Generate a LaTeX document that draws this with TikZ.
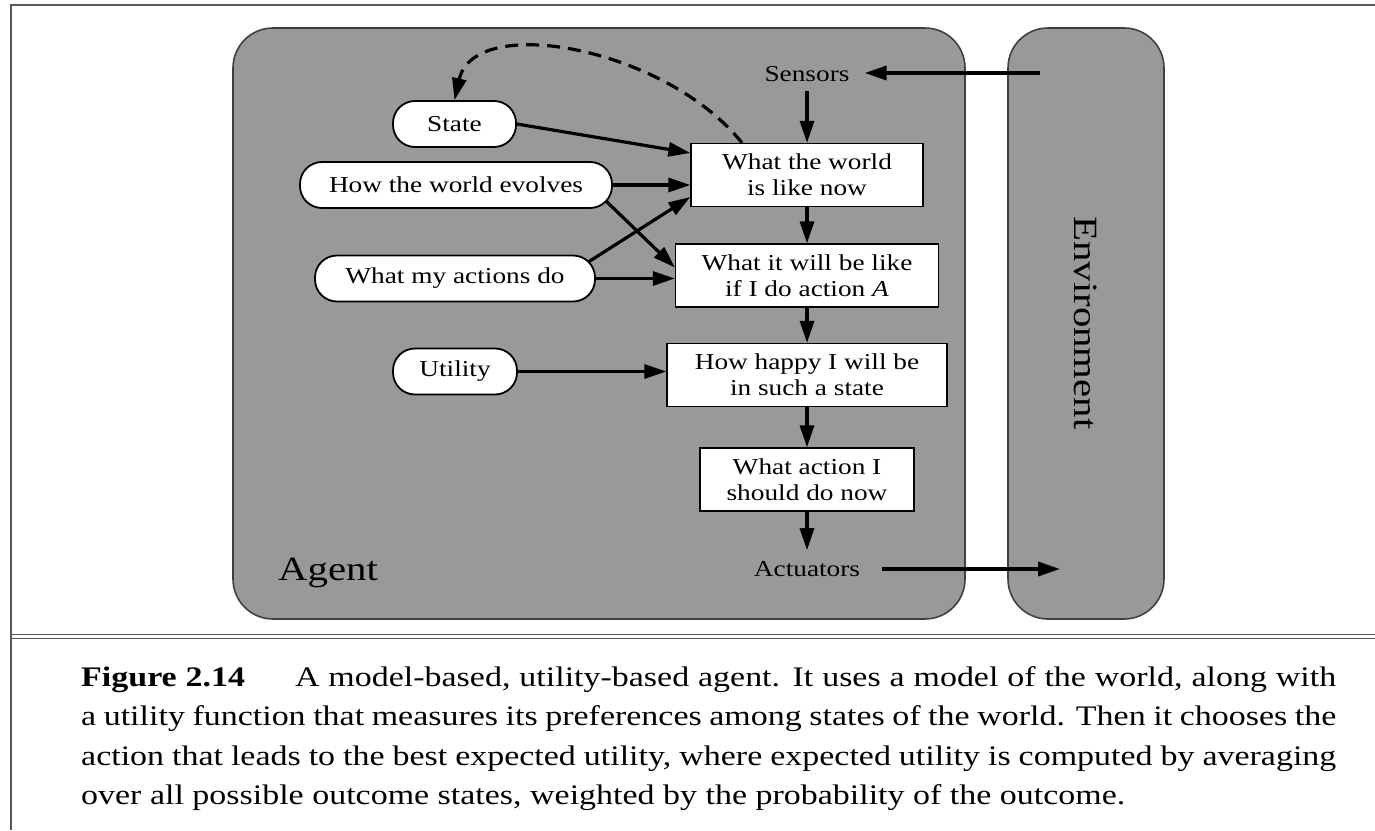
\documentclass[tikz,border=0pt]{standalone}
\usepackage{fontspec}
\setmainfont{Liberation Serif}[FakeStretch=1.2]
\usetikzlibrary{arrows.meta}
\usetikzlibrary{calc}

\definecolor{agentgray}{gray}{0.6}
\definecolor{rimgray}{gray}{0.25}
\definecolor{framegray}{gray}{0.35}

\newcommand{\diagfont}{\fontsize{22.75}{26}\selectfont}
\newcommand{\bigfont}{\fontsize{34}{40}\selectfont}

\tikzset{
	region/.style={draw=rimgray, line width=1.6pt, fill=agentgray, rounded corners=40pt},
	memo/.style={draw, line width=1.8pt, fill=white, rounded corners=22pt, minimum height=46pt, inner sep=0pt, font=\diagfont},
	proc/.style={draw, line width=1.3pt, fill=white, minimum height=63pt, inner sep=0pt, align=center, font=\diagfont},
	port/.style={font=\diagfont},
	flow/.style={line width=3.2pt, -{Triangle[length=22pt,width=14pt]}},
}

\begin{document}
\begin{tikzpicture}[x=1pt, y=-1pt]
	\useasboundingbox (0,0) rectangle (1375,830);

	% Frame
	\draw[framegray, line width=2.5pt] (1375,5) -- (11,5) -- (11,830);
	\draw[framegray, line width=1.4pt] (11,634.5) -- (1375,634.5);
	\draw[framegray, line width=1.4pt] (11,638.7) -- (1375,638.7);

	% Agent and environment
	\draw[region] (233,28) rectangle (965,619);
	\draw[region] (1008,28) rectangle (1164,619);
	\node[font=\bigfont, anchor=base west, inner sep=0pt] (agentlbl) at (278,580) {Agent};
	\node[font=\bigfont, rotate=-90] (envlbl) at (1086,323) {Environment};

	% Sensors and actuators
	\node[port, inner xsep=15pt, inner ysep=9pt] (sensors) at (807,74) {Sensors};
	\node[port, inner xsep=22pt, inner ysep=11pt] (actuators) at (807,569) {Actuators};

	% Internal boxes
	\node[proc, minimum width=232pt] (world) at (807,175) {What the world\\is like now};
	\node[proc, minimum width=263pt] (predict) at (807,275.5) {What it will be like\\if I do action \textit{A}};
	\node[proc, minimum width=280pt] (happy) at (807,375) {How happy I will be\\in such a state};
	\node[proc, minimum width=214pt] (decide) at (807,479.5) {What action I\\should do now};

	% Model pieces
	\node[memo, minimum width=123pt] (state) at (454.5,124) {State};
	\node[memo, minimum width=312pt] (evolve) at (456,185) {How the world evolves};
	\node[memo, minimum width=280pt] (effect) at (455,278.5) {What my actions do};
	\node[memo, minimum width=124pt] (utility) at (455,371.5) {Utility};

	% Percepts in, actions out
	\coordinate (envin) at (1040,73);
	\coordinate (envout) at (1060,572);
	\draw[flow, line width=3.6pt] (envin) -- (envin -| sensors.east);
	\draw[flow, line width=3.6pt] (actuators.east) -- (actuators.east -| envout);

	% Main chain
	\draw[flow] (sensors) -- (world);
	\draw[flow] (world) -- (predict);
	\draw[flow] (predict) -- (happy);
	\draw[flow] (happy) -- (decide);
	\draw[flow] (decide) -- (actuators);

	% Model inputs
	\draw[flow] (state.east) -- ([yshift=22pt]world.west);
	\draw[flow] (evolve.east) -- (evolve.east -| world.west);
	\draw[flow] ($(evolve.south east)+(-7,-8)$) -- ([yshift=8pt]predict.west);
	\draw[flow] ($(effect.north east)+(-7,7)$) -- ([yshift=-22pt]world.west);
	\draw[flow] (effect.east) -- (effect.east -| predict.west);
	\draw[flow] (utility.east) -- (utility.east -| happy.west);
	\draw[flow, dash pattern=on 13pt off 8pt] ([xshift=-65pt]world.north) .. controls +(-76,-95) and +(20,-88) .. (state.north);

	% Caption
	\node[anchor=north west, inner sep=0pt, text width=1255pt, align=justify, font=\fontsize{28.3}{39.5}\selectfont] (caption) at (81,666) {\hyphenpenalty=10000 \exhyphenpenalty=10000
		\textbf{Figure 2.14}\hspace{50pt}A model-based, utility-based agent. It uses a model of the world, along with\linebreak
		a utility function that measures its preferences among states of the world. Then it chooses the\linebreak
		action that leads to the best expected utility, where expected utility is computed by averaging\linebreak
		over all possible outcome states, weighted by the probability of the outcome.};
\end{tikzpicture}
\end{document}
